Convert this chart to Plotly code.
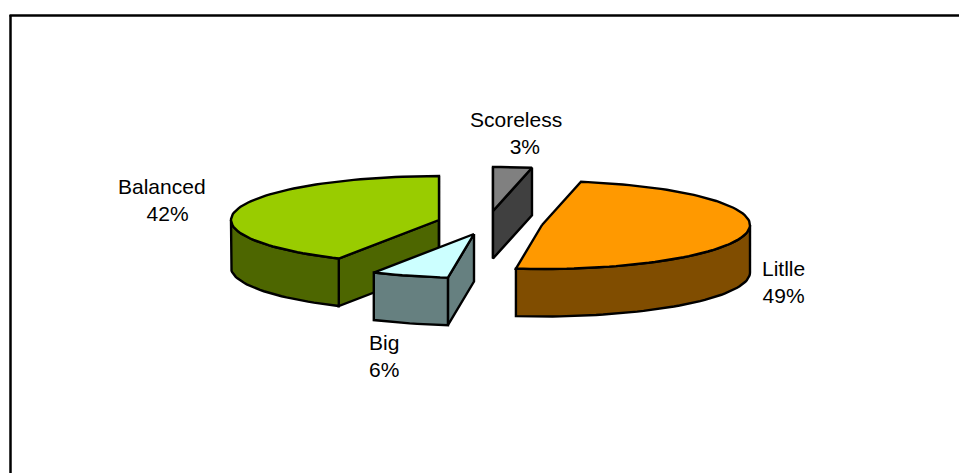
import math
import plotly.graph_objects as go

# --- chart data ---
categories = ["Scoreless", "Litlle", "Big", "Balanced"]
values = [3, 49, 6, 42]

# --- styling (not data) ---
top_colors = ["#808080", "#FF9900", "#CCFFFF", "#99CC00"]
side_colors = ["#404040", "#804D00", "#668080", "#4D6600"]
exploded_centres = [(493, 211), (542, 225), (474, 234), (439, 220)]
label_anchors = [(516, 133), (783.5, 282), (384, 356), (161.5, 200)]
percent_indent = [3, 0, 0, 2]
RX, RY, DEPTH = 208, 44, 47.5
W, H = 959, 473
STROKE = 2.4


def rim(cx, cy, deg, drop=0.0):
    rad = math.radians(deg)
    return cx + RX * math.sin(rad), cy - RY * math.cos(rad) + drop


def arc(cx, cy, a0, a1, drop=0.0):
    n = max(2, int(abs(a1 - a0) / 2) + 1)
    return [rim(cx, cy, a0 + (a1 - a0) * i / (n - 1), drop) for i in range(n)]


def poly(fig, pts, color):
    xs = [p[0] for p in pts] + [pts[0][0]]
    ys = [p[1] for p in pts] + [pts[0][1]]
    fig.add_trace(go.Scatter(
        x=xs, y=ys, mode="lines", fill="toself", fillcolor=color,
        line=dict(color="black", width=STROKE), hoverinfo="skip", showlegend=False,
    ))


fig = go.Figure()
total = sum(values)
spans, start = [], 0.0
for v in values:
    end = start + 360.0 * v / total
    spans.append((start, end))
    start = end

# back-to-front drawing order: Scoreless, Litlle, Balanced, Big
for i in (0, 1, 3, 2):
    a0, a1 = spans[i]
    cx, cy = exploded_centres[i]
    eps = 1e-6
    walls = []
    if math.sin(math.radians(a0)) <= eps:
        walls.append(a0)
    if math.sin(math.radians(a1)) >= -eps:
        walls.append(a1)
    for a in walls:
        p, q = rim(cx, cy, a), rim(cx, cy, a, DEPTH)
        poly(fig, [(cx, cy), p, q, (cx, cy + DEPTH)], side_colors[i])
    lo, hi = max(a0, 90), min(a1, 270)
    if lo < hi:
        poly(fig, arc(cx, cy, lo, hi) + arc(cx, cy, hi, lo, DEPTH), side_colors[i])
    poly(fig, [(cx, cy)] + arc(cx, cy, a0, a1), top_colors[i])

for name, v, (lx, ly), pad in zip(categories, values, label_anchors, percent_indent):
    fig.add_annotation(
        x=lx, y=ly, xref="x", yref="y",
        text=f"{name}<br>{chr(160) * pad}{v}%",
        showarrow=False, xanchor="center", yanchor="middle", align="center",
        font=dict(family="Liberation Sans, Arial, sans-serif", size=21, color="black"),
    )

fig.update_layout(
    width=W, height=H, margin=dict(l=0, r=0, t=0, b=0, pad=0),
    paper_bgcolor="white", plot_bgcolor="white", showlegend=False,
    xaxis=dict(range=[0, W], visible=False, fixedrange=True),
    yaxis=dict(range=[H, 0], visible=False, fixedrange=True),
    shapes=[
        dict(type="line", xref="x", yref="y", x0=9.5, x1=W, y0=15.5, y1=15.5,
             line=dict(color="black", width=2.5)),
        dict(type="line", xref="x", yref="y", x0=10.5, x1=10.5, y0=15, y1=H,
             line=dict(color="black", width=2.5)),
    ],
)
fig.write_html("out.html", config={"displayModeBar": False},
               post_script="document.body.style.margin='0';")
